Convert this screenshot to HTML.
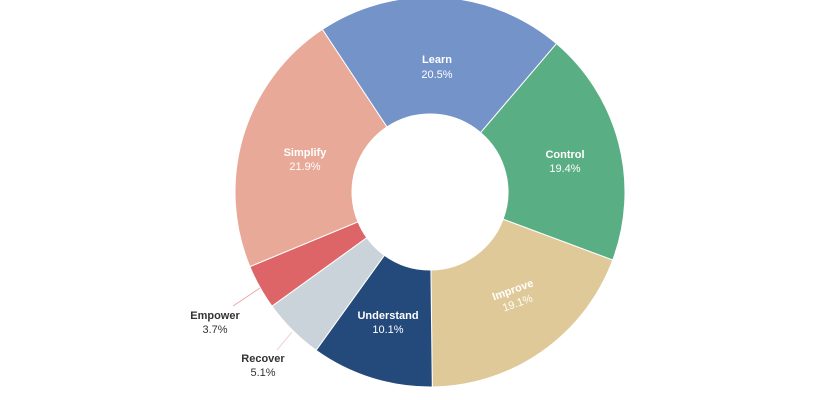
<!DOCTYPE html>
<html><head><style>
body{margin:0;background:#fff;}
svg{display:block;font-family:"Liberation Sans",sans-serif;}
.w{fill:#fff;font-size:11px;text-anchor:middle}
.b{font-weight:bold}
.d{fill:#333;font-size:11px;text-anchor:middle}
</style></head><body>
<svg id="s" width="840" height="400" viewBox="0 0 840 400">
<g id="sl"></g>
<line x1="233" y1="306" x2="260" y2="288" stroke="#e6a0a0" stroke-width="0.8"/>
<line x1="277" y1="350" x2="292" y2="332" stroke="#e6c8c8" stroke-width="0.8"/>
<text class="w b" x="437" y="63">Learn</text><text class="w" x="437" y="78">20.5%</text>
<text class="w b" x="565" y="158">Control</text><text class="w" x="565" y="172">19.4%</text>
<g transform="rotate(-20 515 296)"><text class="w b" x="515" y="293">Improve</text><text class="w" x="515" y="307">19.1%</text></g>
<text class="w b" x="388" y="319">Understand</text><text class="w" x="388" y="333">10.1%</text>
<text class="w b" x="305" y="156">Simplify</text><text class="w" x="305" y="170">21.9%</text>
<text class="d b" x="215" y="319">Empower</text><text class="d" x="215" y="333">3.7%</text>
<text class="d b" x="263" y="362">Recover</text><text class="d" x="263" y="376">5.1%</text>
</svg>
<script>
var cx=430,cy=192,R=195,r=78,a=-33.5;
var d=[[20.5,"#7393c9"],[19.4,"#5aae84"],[19.1,"#dfc998"],[10.1,"#234a7a"],[5.1,"#cbd3da"],[3.7,"#dd6467"],[21.9,"#e8a998"]];
var g=document.getElementById("sl"),h="";
function p(rr,ang){var t=ang*Math.PI/180;return (cx+rr*Math.sin(t)).toFixed(2)+","+(cy-rr*Math.cos(t)).toFixed(2);}
d.forEach(function(x){var b=a+x[0]*360/99.8;var l=(b-a)>180?1:0;
h+='<path d="M'+p(R,a)+' A'+R+','+R+' 0 '+l+' 1 '+p(R,b)+' L'+p(r,b)+' A'+r+','+r+' 0 '+l+' 0 '+p(r,a)+' Z" fill="'+x[1]+'" stroke="#fff" stroke-width="1"/>';a=b;});
g.innerHTML=h;
</script>
</body></html>
